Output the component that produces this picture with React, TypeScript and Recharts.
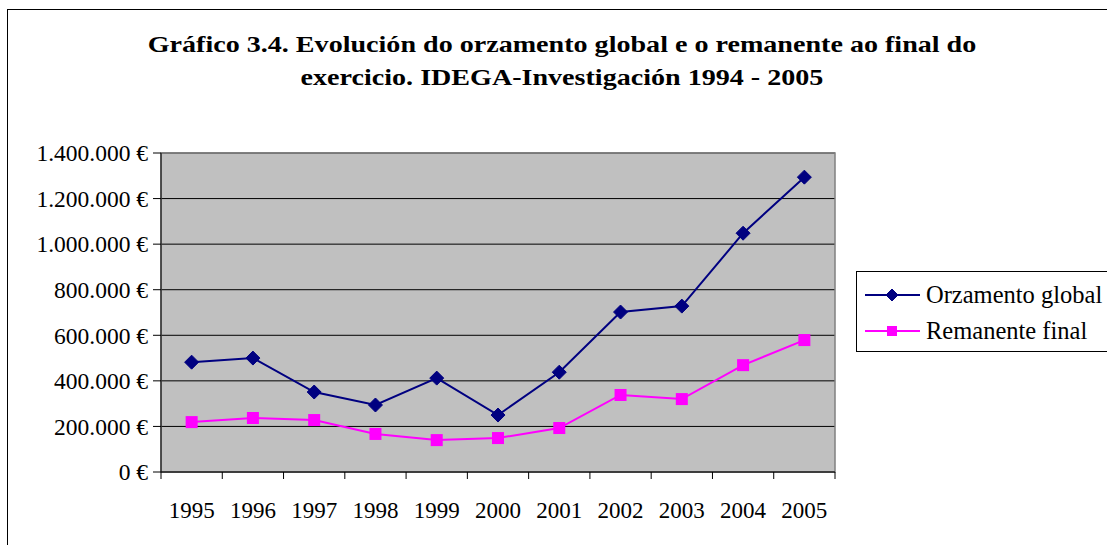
import React from 'react';
import { LineChart, Line, XAxis, YAxis, CartesianGrid, ReferenceArea } from 'recharts';

// Values
const years = ['1995', '1996', '1997', '1998', '1999', '2000', '2001', '2002', '2003', '2004', '2005'];
const orzamentoGlobal = [482000, 500000, 351000, 294000, 412000, 250000, 438000, 702000, 728000, 1048000, 1294000];
const remanenteFinal = [219000, 237000, 228000, 167000, 140000, 149000, 193000, 338000, 320000, 469000, 579000];
const yTicks = [0, 200000, 400000, 600000, 800000, 1000000, 1200000, 1400000];

const data = years.map((year, i) => ({
  year,
  orzamento: orzamentoGlobal[i],
  remanente: remanenteFinal[i],
}));

const FONT = '"Liberation Serif", "Times New Roman", serif';
const NAVY = '#000080';
const MAGENTA = '#FF00FF';

const formatEuro = (v: number) => `${v.toString().replace(/\B(?=(\d{3})+(?!\d))/g, '.')} €`;

const Diamond = ({ cx, cy, size = 6, fill = NAVY }: any) => {
  if (cx == null || cy == null) return null;
  return (
    <polygon
      points={`${cx},${cy - size} ${cx + size},${cy} ${cx},${cy + size} ${cx - size},${cy}`}
      fill={fill}
      stroke={fill}
      strokeWidth={1}
    />
  );
};

const Square = ({ cx, cy, size = 5.5, fill = MAGENTA }: any) => {
  if (cx == null || cy == null) return null;
  return <rect x={cx - size} y={cy - size} width={size * 2} height={size * 2} fill={fill} />;
};

// category ticks sit between the years, like the original spreadsheet chart
const XTick = (props: any) => {
  const { x, y, payload, index } = props;
  const half = payload && payload.offset ? payload.offset : 30.6;
  return (
    <g>
      <line x1={x - half} y1={y} x2={x - half} y2={y + 7} stroke="#000" />
      {index === years.length - 1 && <line x1={x + half} y1={y} x2={x + half} y2={y + 7} stroke="#000" />}
      <text x={x} y={y + 38} dy="0.355em" textAnchor="middle" fontFamily={FONT} fontSize={23} fill="#000">
        {payload.value}
      </text>
    </g>
  );
};

const legendItems = [
  { label: 'Orzamento global', color: NAVY, marker: 'diamond' },
  { label: 'Remanente final', color: MAGENTA, marker: 'square' },
];

const LegendBox = () => (
  <div
    style={{
      position: 'absolute',
      left: 856,
      top: 271,
      width: 300,
      height: 81,
      border: '1px solid #000',
      background: '#fff',
      boxSizing: 'border-box',
      fontFamily: FONT,
      fontSize: 24.5,
      paddingTop: 5,
    }}
  >
    {legendItems.map((item) => (
      <div key={item.label} style={{ display: 'flex', alignItems: 'center', height: 36, whiteSpace: 'nowrap' }}>
        <svg width={64} height={20} style={{ marginLeft: 8 }}>
          <line x1={0} y1={10} x2={55} y2={10} stroke={item.color} strokeWidth={2} />
          {item.marker === 'diamond' ? (
            <Diamond cx={27} cy={10} size={6} fill={item.color} />
          ) : (
            <Square cx={27} cy={10} size={5} fill={item.color} />
          )}
        </svg>
        <span style={{ marginLeft: -3 }}>{item.label}</span>
      </div>
    ))}
  </div>
);

export default function App() {
  return (
    <div
      style={{
        position: 'absolute',
        left: 0,
        top: 0,
        width: 1107,
        height: 545,
        overflow: 'hidden',
        background: '#fff',
      }}
    >
      <div
        style={{
          position: 'absolute',
          left: 0,
          top: 28,
          width: 1124,
          textAlign: 'center',
          fontFamily: FONT,
          fontWeight: 'bold',
          fontSize: 24,
          lineHeight: '33px',
          transform: 'scaleX(1.17)',
          transformOrigin: '562px 0',
        }}
      >
        Gráfico 3.4. Evolución do orzamento global e o remanente ao final do
        <br />
        exercicio. IDEGA-Investigación 1994 - 2005
      </div>
      <div style={{ position: 'absolute', left: 0, top: 0 }}>
        <LineChart width={1107} height={545} data={data} margin={{ top: 153, right: 272, bottom: 33, left: 11 }}>
          <CartesianGrid vertical={false} stroke="#000" fill="#C0C0C0" fillOpacity={1} />
          <ReferenceArea y1={0} y2={1400000} fill="none" stroke="#808080" strokeWidth={1.5} ifOverflow="visible" />
          <XAxis
            dataKey="year"
            scale="band"
            axisLine={{ stroke: '#000' }}
            tickLine={false}
            tickSize={0}
            tickMargin={0}
            height={40}
            interval={0}
            tick={<XTick />}
          />
          <YAxis
            domain={[0, 1400000]}
            ticks={yTicks}
            tickFormatter={formatEuro}
            width={150}
            axisLine={{ stroke: '#000' }}
            tickLine={{ stroke: '#000' }}
            tickSize={8}
            tickMargin={5}
            tick={{ fill: '#000', fontFamily: FONT, fontSize: 23.5 }}
          />
          <Line
            type="linear"
            dataKey="orzamento"
            name="Orzamento global"
            stroke={NAVY}
            strokeWidth={2}
            dot={(p: any) => <Diamond key={`d-${p.index}`} cx={p.cx} cy={p.cy} size={7} fill={NAVY} />}
            activeDot={false}
            isAnimationActive={false}
          />
          <Line
            type="linear"
            dataKey="remanente"
            name="Remanente final"
            stroke={MAGENTA}
            strokeWidth={2}
            dot={(p: any) => <Square key={`s-${p.index}`} cx={p.cx} cy={p.cy} size={6} fill={MAGENTA} />}
            activeDot={false}
            isAnimationActive={false}
          />
        </LineChart>
      </div>
      <LegendBox />
      <div
        style={{
          position: 'absolute',
          left: 7,
          top: 9,
          width: 1200,
          height: 600,
          border: '1px solid #000',
          pointerEvents: 'none',
        }}
      />
    </div>
  );
}
